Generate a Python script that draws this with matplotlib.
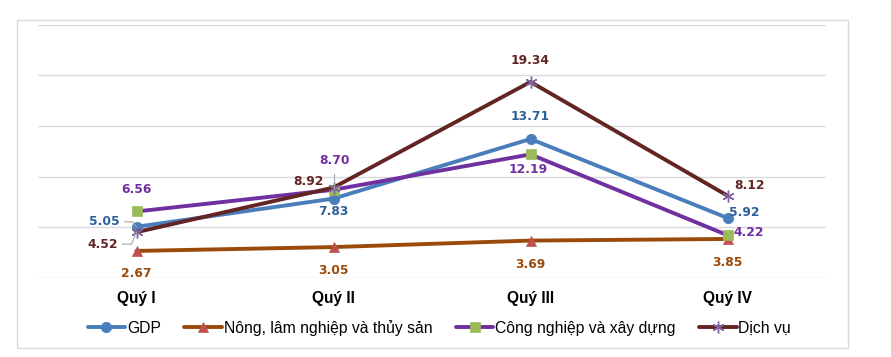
import matplotlib
matplotlib.use("Agg")
import matplotlib.pyplot as plt
from matplotlib.lines import Line2D
from matplotlib.patches import Rectangle

categories = ["Quý I", "Quý II", "Quý III", "Quý IV"]
series_names = ["GDP", "Nông, lâm nghiệp và thủy sản", "Công nghiệp và xây dựng", "Dịch vụ"]
gdp = [5.05, 7.83, 13.71, 5.92]
nong = [2.67, 3.05, 3.69, 3.85]
cong = [6.56, 8.70, 12.19, 4.22]
dichvu = [4.52, 8.92, 19.34, 8.12]

line_colors = ["#4A7EBB", "#9A4A0B", "#7030A0", "#632523"]
label_colors = ["#2F5F98", "#9A4A0B", "#7030A0", "#632523"]
marker_colors = ["#4A7EBB", "#C0504D", "#9BBB59", "#8064A2"]
markers = ["o", "^", "s", (6, 2, 0)]

# label offsets in pixels (dx, dy) from point; ha
offsets = [
    [(-32, 5, "center"), (0, -12.5, "center"), (0, 22, "center"), (2, 5, "left")],
    [(0, -23, "center"), (0, -23, "center"), (0, -23.5, "center"), (0, -23.5, "center")],
    [(0, 21.5, "center"), (1, 29, "center"), (-2, -15.5, "center"), (6, 2.5, "left")],
    [(-34, -12, "center"), (-25, 6, "center"), (0, 21, "center"), (7, 10, "left")],
]

W, H, DPI = 891, 357, 100
fig = plt.figure(figsize=(W / DPI, H / DPI), dpi=DPI)
fig.patch.set_facecolor("white")
fig.patches.append(Rectangle((17 / W, 1 - 348 / H), 831 / W, 328 / H, transform=fig.transFigure,
                             fill=False, edgecolor="#D9D9D9", linewidth=1))

ax = fig.add_axes([38 / W, 1 - 278 / H, 788 / W, 253.5 / H])
ax.set_xlim(-0.5, 3.5)
ax.set_ylim(0, 25)
ax.set_yticks([0, 5, 10, 15, 20, 25])
ax.set_yticklabels([])
ax.grid(axis="y", color="#D9D9D9", linewidth=1)
ax.set_axisbelow(True)
for s in ax.spines.values():
    s.set_visible(False)
ax.tick_params(axis="both", length=0)
ax.tick_params(axis="x", pad=9)
x = list(range(len(categories)))
ax.set_xticks(x)
ax.set_xticklabels(categories, fontfamily="Liberation Sans", fontweight="bold", fontsize=11.2)

all_series = [gdp, nong, cong, dichvu]
handles = []
for i, vals in enumerate(all_series):
    m = markers[i]
    ms = 7.5 if i != 3 else 8.5
    (ln,) = ax.plot(x, vals, color=line_colors[i], linewidth=2.8, marker=m, markersize=ms,
                    markerfacecolor=marker_colors[i], markeredgecolor=marker_colors[i],
                    markeredgewidth=1 if i == 3 else 0.5, zorder=3 + i, solid_capstyle="round")
    handles.append(ln)
    for j, v in enumerate(vals):
        dx, dy, ha = offsets[i][j]
        ax.annotate(f"{v:.2f}", (j, v), xytext=(dx, dy), textcoords="offset pixels",
                    ha=ha, va="center", fontsize=8.8, fontweight="bold",
                    fontfamily="DejaVu Sans", color=label_colors[i], zorder=10)

# leader lines (pixel offsets relative to data points)
def leader(xi, yi, pts):
    px, py = ax.transData.transform((xi, yi))
    xs = [px + a for a, b in pts]
    ys = [py + b for a, b in pts]
    fig.add_artist(Line2D(xs, ys, transform=None, color="#A6A6A6", linewidth=0.8, zorder=9))

leader(0, gdp[0], [(-12, 5), (-4, 5), (0, 0)])
leader(0, dichvu[0], [(-14, -12), (-5, -12), (0, 0)])
leader(1, cong[1], [(0, 16), (0, 2)])

fig.legend(handles, series_names, loc="center", bbox_to_anchor=(0.493, 1 - 328 / H), ncol=4,
           frameon=False, prop={"family": "Liberation Sans", "size": 11.3},
           handlelength=2.4, handletextpad=0.1, columnspacing=1.5)

fig.savefig("out.png", dpi=DPI, facecolor="white")
